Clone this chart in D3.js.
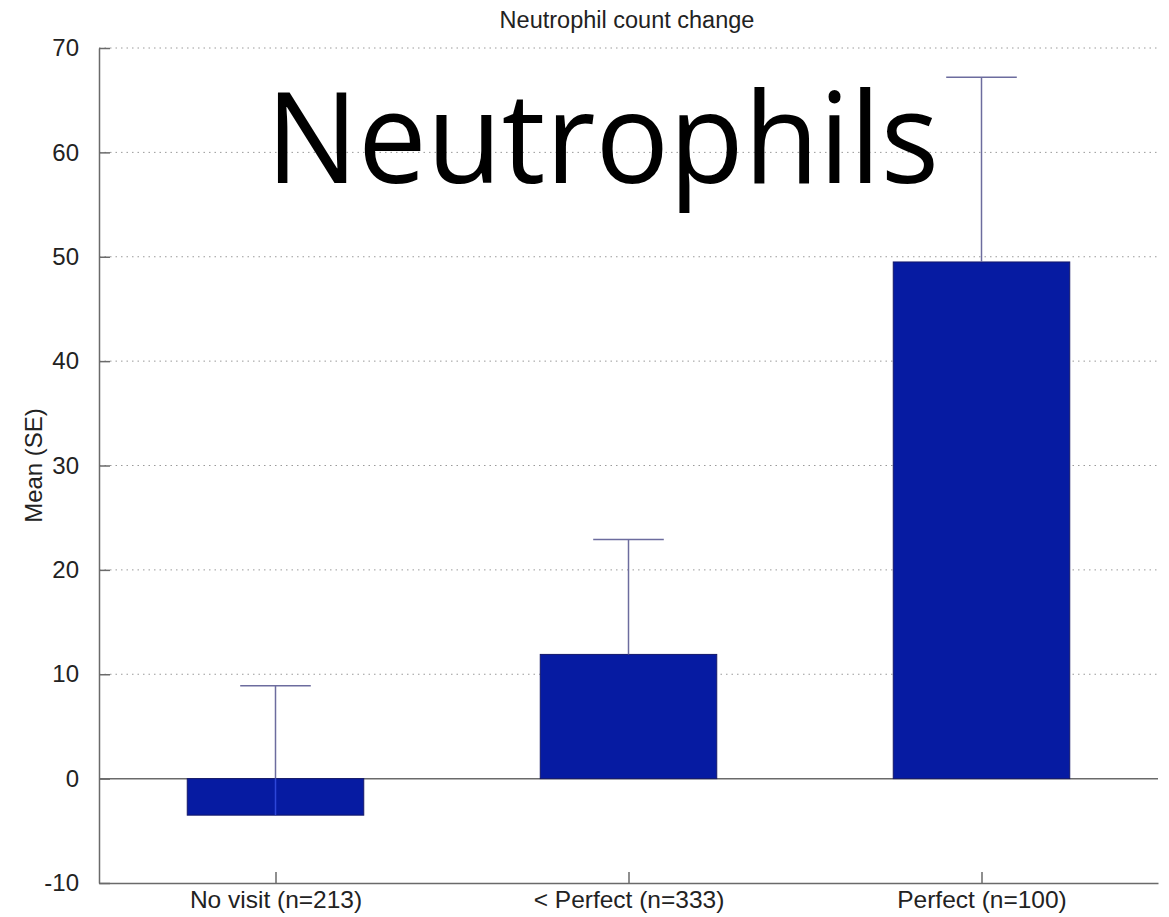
<!DOCTYPE html>
<html>
<head>
<meta charset="utf-8">
<script src="https://cdn.jsdelivr.net/npm/d3@7"></script>
<style>
  html, body { margin: 0; padding: 0; background: #fff; }
  svg { display: block; }
</style>
</head>
<body>
<svg id="chart" width="1169" height="917"></svg>
<script>
// Neutrophil count change by visit group: mean with one-sided standard error
const categories = ["No visit (n=213)", "< Perfect (n=333)", "Perfect (n=100)"];
const means = [-3.5, 11.9, 49.5];
const stdErrors = [12.4, 11.0, 17.7];
const yTicks = [-10, 0, 10, 20, 30, 40, 50, 60, 70];
const gridTicks = [10, 20, 30, 40, 50, 60, 70];
const chartTitle = "Neutrophil count change";
const yLabel = "Mean (SE)";
const overlayText = "Neutrophils";

const svg = d3.select("#chart");
const margin = { left: 99, right: 11, top: 48, bottom: 34 };
const W = 1169, H = 917;

// categories sit at positions 1..3, axis spans 0.5..3.5
const x = d3.scaleLinear().domain([0.5, 3.5]).range([margin.left, W - margin.right]);
const y = d3.scaleLinear().domain([-10, 70]).range([H - margin.bottom, margin.top]);
const barHalf = 0.25, capHalf = 0.1;

const axisColor = "#6a6a6a";
const barFill = "#061ba2";
const barEdge = "#14186a";
const errColor = "#6c6c9e";
const font = "'Liberation Sans', Arial, Helvetica, sans-serif";

// dotted grid
svg.append("g").selectAll("line").data(gridTicks).join("line")
  .attr("x1", x(0.5)).attr("x2", x(3.5))
  .attr("y1", d => y(d)).attr("y2", d => y(d))
  .attr("stroke", "#9a9a9a").attr("stroke-width", 1)
  .attr("stroke-dasharray", "1.5,4");

// zero baseline
svg.append("line")
  .attr("x1", x(0.5)).attr("x2", x(3.5))
  .attr("y1", y(0)).attr("y2", y(0))
  .attr("stroke", axisColor).attr("stroke-width", 1.5);

// bars
const idx = d3.range(categories.length);
svg.append("g").selectAll("rect").data(idx).join("rect")
  .attr("x", i => x(i + 1 - barHalf))
  .attr("width", i => x(i + 1 + barHalf) - x(i + 1 - barHalf))
  .attr("y", i => y(Math.max(0, means[i])))
  .attr("height", i => Math.abs(y(means[i]) - y(0)))
  .attr("fill", barFill).attr("stroke", barEdge).attr("stroke-width", 1);

// error bars (upper only)
const eb = svg.append("g");
eb.selectAll("line.stem").data(idx).join("line").attr("class", "stem")
  .attr("x1", i => x(i + 1)).attr("x2", i => x(i + 1))
  .attr("y1", i => y(Math.max(0, means[i]))).attr("y2", i => y(means[i] + stdErrors[i]))
  .attr("stroke", errColor).attr("stroke-width", 1.5);
// stem segment seen through a negative bar
eb.selectAll("line.inner").data(idx.filter(i => means[i] < 0)).join("line").attr("class", "inner")
  .attr("x1", i => x(i + 1)).attr("x2", i => x(i + 1))
  .attr("y1", i => y(means[i])).attr("y2", y(0))
  .attr("stroke", "#2d46d8").attr("stroke-width", 1.5);
eb.selectAll("line.cap").data(idx).join("line").attr("class", "cap")
  .attr("x1", i => x(i + 1 - capHalf)).attr("x2", i => x(i + 1 + capHalf))
  .attr("y1", i => y(means[i] + stdErrors[i])).attr("y2", i => y(means[i] + stdErrors[i]))
  .attr("stroke", errColor).attr("stroke-width", 1.5);

// axes
const yAxis = d3.axisLeft(y).tickValues(yTicks).tickFormat(d => String(d))
  .tickSize(-11).tickPadding(20).tickSizeOuter(0);
const gy = svg.append("g").attr("transform", `translate(${margin.left},0)`).call(yAxis);
gy.select(".domain").attr("stroke", axisColor).attr("stroke-width", 1.5);
gy.selectAll(".tick line").attr("stroke", axisColor).attr("stroke-width", 1.5);
gy.selectAll(".tick text").attr("font-family", font).attr("font-size", 24).attr("fill", "#222");

const xAxis = d3.axisBottom(x).tickValues([1, 2, 3]).tickFormat(d => categories[d - 1])
  .tickSize(-11).tickPadding(8).tickSizeOuter(0);
const gx = svg.append("g").attr("transform", `translate(0,${y(-10)})`).call(xAxis);
gx.select(".domain").attr("stroke", axisColor).attr("stroke-width", 1.5);
gx.selectAll(".tick line").attr("stroke", axisColor).attr("stroke-width", 1.5);
gx.selectAll(".tick text").attr("font-family", font).attr("font-size", 24.5).attr("fill", "#222");

// titles
svg.append("text").attr("x", 627).attr("y", 28).attr("text-anchor", "middle")
  .attr("font-family", font).attr("font-size", 23.5).attr("fill", "#222").text(chartTitle);
svg.append("text").attr("transform", `translate(42,${y(30)}) rotate(-90)`)
  .attr("text-anchor", "middle")
  .attr("font-family", font).attr("font-size", 24).attr("fill", "#222").text(yLabel);

// large overlay label
svg.append("text").attr("x", 266).attr("y", 183)
  .attr("font-family", "'Open Sans', Lato, sans-serif").attr("font-size", 126)
  .attr("textLength", 673).attr("lengthAdjust", "spacingAndGlyphs")
  .attr("fill", "#000").text(overlayText);
</script>
</body>
</html>
